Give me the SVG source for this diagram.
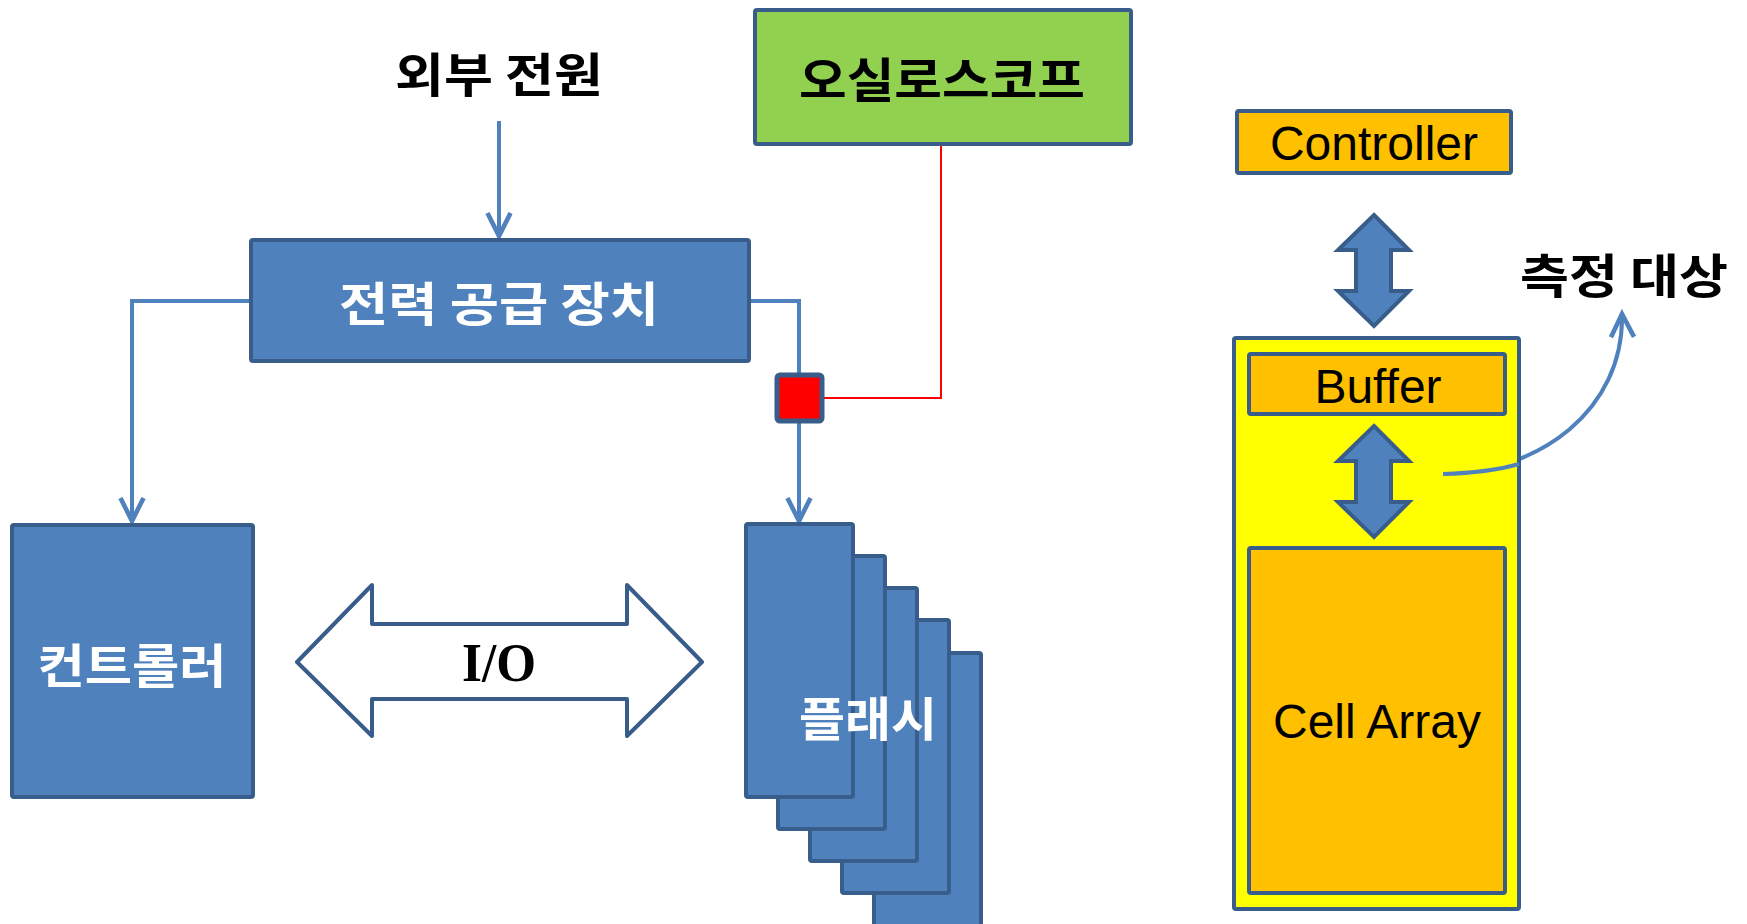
<svg xmlns="http://www.w3.org/2000/svg" width="1747" height="924" viewBox="0 0 1747 924">
<style>
.box{fill:#4F81BD;stroke:#385D8A;stroke-width:4}
.org{fill:#FFC000;stroke:#385D8A;stroke-width:4}
.conn{fill:none;stroke:#4F81BD;stroke-width:4}
.kw{font-family:"Noto Sans CJK KR","Noto Sans",sans-serif;font-weight:bold;font-size:47px;text-anchor:middle}
.lat{font-family:"Liberation Sans",Arial,sans-serif;font-size:48px;text-anchor:middle;fill:#000}
</style>
<defs>
<marker id="ah" markerUnits="userSpaceOnUse" markerWidth="30" markerHeight="30" viewBox="-22 -12 26 24" refX="0" refY="0" orient="auto">
<path d="M-20,-10 L0,0 L-20,10" fill="none" stroke="#4F81BD" stroke-width="4"/>
</marker>
</defs>
<rect width="1747" height="924" fill="#FFFFFF"/>

<g id="connectors">
<path class="conn" d="M499,121 V236" marker-end="url(#ah)"/>
<path class="conn" d="M251,301 H132 V521" marker-end="url(#ah)"/>
<path class="conn" d="M749,301 H799 V521" marker-end="url(#ah)"/>
<path d="M823,398 H941 V144" fill="none" stroke="#FF0000" stroke-width="2"/>
<path class="conn" stroke-width="3" d="M1443,474 C1540,472 1624,410 1622,314" marker-end="url(#ah)"/>
</g>

<g id="external-power">
<text class="kw" x="499" y="92" fill="#000" textLength="208" lengthAdjust="spacingAndGlyphs">외부 전원</text>
</g>

<g id="oscilloscope">
<rect x="755" y="10" width="376" height="134" rx="2" fill="#92D050" stroke="#385D8A" stroke-width="4"/>
<text class="kw" x="942" y="97" fill="#000" textLength="286" lengthAdjust="spacingAndGlyphs">오실로스코프</text>
</g>

<g id="power-supply">
<rect class="box" x="251" y="240" width="498" height="121" rx="2"/>
<text class="kw" x="499" y="321" fill="#FFF" textLength="320" lengthAdjust="spacingAndGlyphs">전력 공급 장치</text>
</g>

<g id="probe">
<rect x="777" y="375" width="45" height="46" rx="3" fill="#FF0000" stroke="#385D8A" stroke-width="5"/>
</g>

<g id="controller-kr">
<rect class="box" x="12" y="525" width="241" height="272" rx="2"/>
<text class="kw" x="132" y="683" fill="#FFF" textLength="189" lengthAdjust="spacingAndGlyphs">컨트롤러</text>
</g>

<g id="io">
<polygon points="297,662 372,585 372,624 627,624 627,585 702,662 627,736 627,699 372,699 372,736" fill="#FFFFFF" stroke="#385D8A" stroke-width="4" stroke-linejoin="round"/>
<text x="499" y="681" font-family="'Liberation Serif',serif" font-weight="bold" font-size="54" text-anchor="middle" textLength="74" lengthAdjust="spacingAndGlyphs">I/O</text>
</g>

<g id="flash">
<rect class="box" x="874" y="653" width="107" height="280" rx="2"/>
<rect class="box" x="842" y="620" width="107" height="273" rx="2"/>
<rect class="box" x="810" y="588" width="107" height="273" rx="2"/>
<rect class="box" x="778" y="556" width="107" height="273" rx="2"/>
<rect class="box" x="746" y="524" width="107" height="273" rx="2"/>
<text class="kw" x="868" y="736" fill="#FFF" textLength="138" lengthAdjust="spacingAndGlyphs">플래시</text>
</g>

<g id="controller">
<rect class="org" x="1237" y="111" width="274" height="62" rx="2"/>
<text class="lat" x="1374" y="160">Controller</text>
</g>

<g id="arrow-top">
<polygon points="1374,215 1409,250 1391,250 1391,291 1409,291 1374,326 1338,291 1356,291 1356,250 1338,250" fill="#4F81BD" stroke="#385D8A" stroke-width="4"/>
</g>

<g id="measure-label">
<text class="kw" x="1624" y="293" fill="#000" textLength="208" lengthAdjust="spacingAndGlyphs">측정 대상</text>
</g>

<g id="chip">
<rect x="1234" y="338" width="285" height="571" rx="2" fill="#FFFF00" stroke="#385D8A" stroke-width="4"/>
</g>

<g id="buffer">
<rect class="org" x="1249" y="354" width="256" height="60" rx="2"/>
<text class="lat" x="1378" y="403">Buffer</text>
</g>

<g id="arrow-inner">
<polygon points="1374,426 1409,461 1391,461 1391,502 1409,502 1374,537 1338,502 1356,502 1356,461 1338,461" fill="#4F81BD" stroke="#385D8A" stroke-width="4"/>
</g>

<g id="cell-array">
<rect class="org" x="1249" y="548" width="256" height="345" rx="2"/>
<text class="lat" x="1377" y="738">Cell Array</text>
</g>

<path class="conn" stroke-width="3" d="M1443,474 C1480,473 1505,468 1519,464"/>
</svg>
